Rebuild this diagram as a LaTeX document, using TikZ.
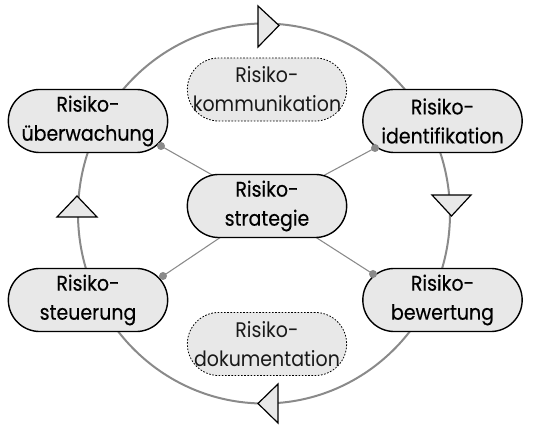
\documentclass[tikz,border=0pt]{standalone}
\usepackage{fontspec}
\setmainfont{Poppins}[FakeStretch=0.9]
\newfontfamily\stagefont{Poppins}[FakeStretch=0.9, FakeBold=0.3]
\usetikzlibrary{calc,backgrounds}

\definecolor{boxfill}{HTML}{E8E8E8}
\definecolor{ringgray}{HTML}{8A8A8A}

\tikzset{
  stagebox/.style={draw=black, line width=1.05pt, fill=boxfill,
    rounded corners=23.6pt, minimum width=119.5pt, minimum height=47.3pt,
    inner sep=0pt, align=center, font=\stagefont\fontsize{15.8}{21.8}\selectfont},
  sidebox/.style={stagebox, line width=0.6pt, dash pattern=on 1.2pt off 1.2pt,
    font=\rmfamily\fontsize{15.8}{21.8}\selectfont, text=black!90},
  ring/.style={draw=ringgray, line width=1.5pt},
  spoke/.style={draw=ringgray, line width=0.8pt},
  joint/.style={fill=ringgray, draw=none},
  flowmark/.style={draw=black, line width=0.9pt, fill=boxfill, line join=miter},
}

\begin{document}
\begin{tikzpicture}[x=0.75pt, y=-0.75pt]
\useasboundingbox (0,0) rectangle (533,427);

% stages of the cycle
\node[stagebox] (uw) at (88,121)   {Risiko-\\überwachung};
\node[stagebox] (id) at (442.5,121) {Risiko-\\identifikation};
\node[stagebox] (st) at (267,206)  {Risiko-\\strategie};
\node[stagebox] (su) at (88,300)   {Risiko-\\steuerung};
\node[stagebox] (bw) at (442.5,300) {Risiko-\\bewertung};

% accompanying activities
\node[sidebox] (ko) at (267,89.5)  {Risiko-\\kommunikation};
\node[sidebox] (do) at (267,344) {Risiko-\\dokumentation};

% contact points of the spokes
\coordinate (juw) at ($(uw.center)+(73,25)$);
\coordinate (jid) at ($(id.center)+(-67.5,27)$);
\coordinate (jsu) at ($(su.center)+(75,-24)$);
\coordinate (jbw) at ($(bw.center)+(-69.5,-26)$);

\begin{pgfonlayer}{background}
  % the cycle ring
  \draw[ring] (264,213.5) ellipse [x radius=186, y radius=190];
  % spokes from the strategy to each stage
  \draw[spoke] (st.center) -- (juw);
  \draw[spoke] (st.center) -- (jid);
  \draw[spoke] (st.center) -- (jsu);
  \draw[spoke] (st.center) -- (jbw);
\end{pgfonlayer}

\foreach \j in {juw,jid,jsu,jbw} \fill[joint] (\j) circle (4);

% direction marks on the ring (clockwise)
\coordinate (mt) at (268,24);
\coordinate (mr) at (451.5,206);
\coordinate (mb) at (268,403.5);
\coordinate (ml) at (77,206.5);
\draw[flowmark] ($(mt)+(-10,-18)$) -- ($(mt)+(-10,23)$) -- ($(mt)+(11,1.5)$) -- cycle;
\draw[flowmark] ($(mr)+(-19.5,-11)$) -- ($(mr)+(19.5,-11)$) -- ($(mr)+(0,10)$) -- cycle;
\draw[flowmark] ($(mb)+(10,-19.5)$) -- ($(mb)+(10,19.5)$) -- ($(mb)+(-10,0)$) -- cycle;
\draw[flowmark] ($(ml)+(-20,10.5)$) -- ($(ml)+(20,10.5)$) -- ($(ml)+(0,-10.5)$) -- cycle;
\end{tikzpicture}
\end{document}
